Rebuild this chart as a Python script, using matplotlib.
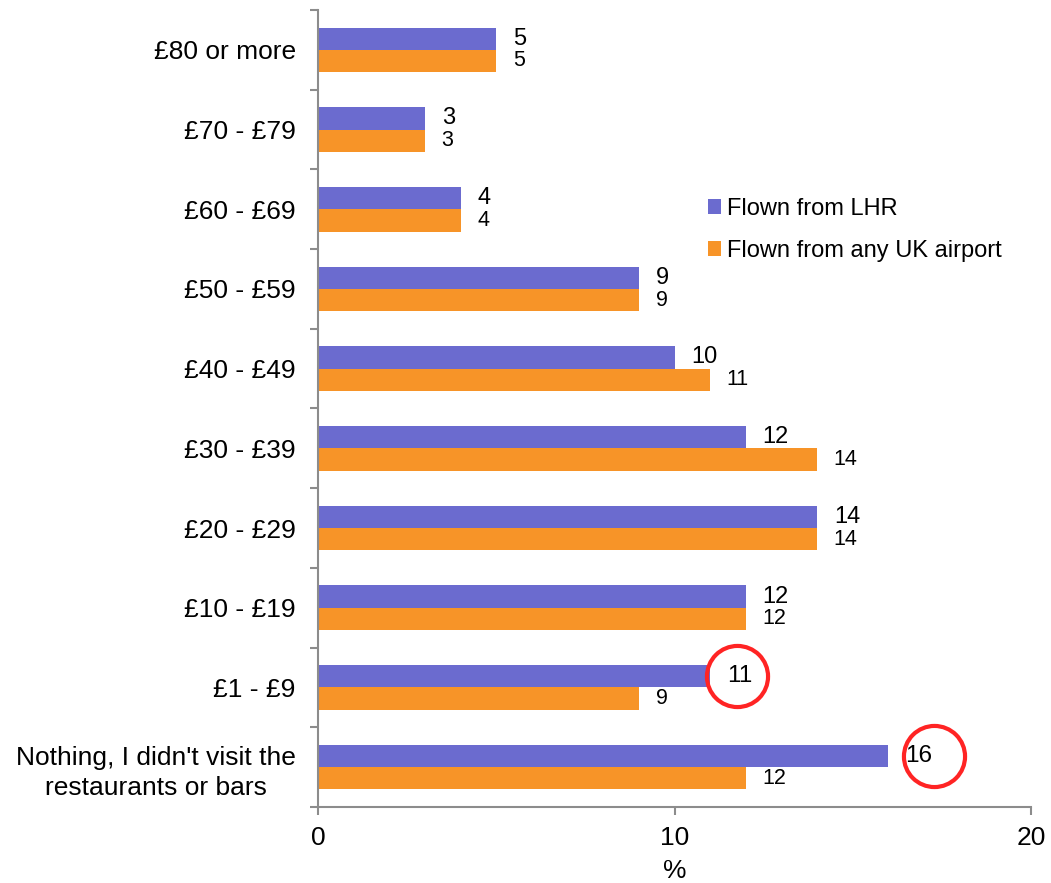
import matplotlib
matplotlib.use("Agg")
import matplotlib.pyplot as plt
from matplotlib.transforms import ScaledTranslation
import numpy as np

plt.rcParams['font.family'] = ['Liberation Sans', 'DejaVu Sans']

categories = ["£80 or more", "£70 - £79", "£60 - £69", "£50 - £59", "£40 - £49",
              "£30 - £39", "£20 - £29", "£10 - £19", "£1 - £9",
              "Nothing, I didn't visit the\nrestaurants or bars"]
lhr = [5, 3, 4, 9, 10, 12, 14, 12, 11, 16]
any_uk = [5, 3, 4, 9, 11, 14, 14, 12, 9, 12]
series_names = ["Flown from LHR", "Flown from any UK airport"]
highlighted = [8, 9]  # rows whose LHR value is ringed

purple = "#6B6BCF"
orange = "#F79428"
axis_grey = "#8C8C8C"
ring_red = "#FF2424"

fig = plt.figure(figsize=(10.51, 8.83), dpi=100)
ax = fig.add_axes([0.3026, 0.0861, 0.6784, 0.9026])

y = np.arange(len(categories))
h = 0.28
b1 = ax.barh(y - h / 2, lhr, height=h, color=purple, label=series_names[0])
b2 = ax.barh(y + h / 2, any_uk, height=h, color=orange, label=series_names[1])

ax.set_xlim(0, 20)
ax.set_ylim(len(categories) - 0.5, -0.5)

for r, v in enumerate(lhr):
    ax.annotate(str(v), (v, r - h / 2), xytext=(12, 0), textcoords="offset points",
                va="center", ha="left", fontsize=17.5 if r in highlighted else 17)
for r, v in enumerate(any_uk):
    ax.annotate(str(v), (v, r + h / 2), xytext=(12, 0), textcoords="offset points",
                va="center", ha="left", fontsize=15.5)

# red rings drawn around the highlighted LHR labels (offset in points from bar end)
ring_offsets = {8: 19.5, 9: 33}
for r in highlighted:
    v = lhr[r]
    ax.plot([v], [r - h / 2], marker="o", markersize=44, markerfacecolor="none",
            markeredgecolor=ring_red, markeredgewidth=3,
            transform=ax.transData + ScaledTranslation(ring_offsets[r] / 72, 0,
                                                       fig.dpi_scale_trans),
            clip_on=False, zorder=5)

ax.set_yticks(y)
ax.set_yticklabels(categories, fontsize=19, ha="right", multialignment="center",
                   linespacing=1.33)
ax.tick_params(axis="y", which="major", length=0, pad=16)
ax.set_yticks(np.arange(-0.5, len(categories)), minor=True)
ax.tick_params(axis="y", which="minor", length=5.5, width=1.5, color=axis_grey,
               direction="out")

ax.set_xticks([0, 10, 20])
ax.tick_params(axis="x", length=5.5, width=1.5, color=axis_grey, labelsize=19, pad=8)
ax.set_xlabel("%", fontsize=19, labelpad=7)

for s in ["top", "right"]:
    ax.spines[s].set_visible(False)
for s in ["left", "bottom"]:
    ax.spines[s].set_color(axis_grey)
    ax.spines[s].set_linewidth(1.5)

ax.legend(handles=[b1, b2], loc="upper left", bbox_to_anchor=(0.6536, 0.80),
          bbox_transform=fig.transFigure, frameon=False, fontsize=17,
          handlelength=0.55, handleheight=0.55, handletextpad=0.25, labelspacing=0.85)

fig.savefig("out.png", dpi=100)
